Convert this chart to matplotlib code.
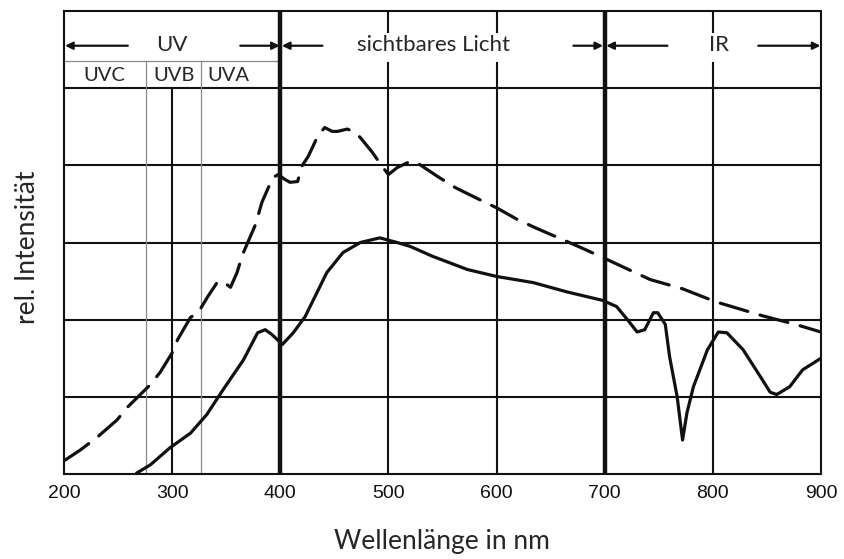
import matplotlib

matplotlib.use("Agg")
import matplotlib.pyplot as plt

INK = "#111111"
THIN = "#8a8a8a"
TXT = "#262626"
LABEL_FONT = ["Lato", "DejaVu Sans"]

# Solid curve (wavelength nm, rel. intensity in grid units)
solid_nm = [267, 280, 298, 317, 332, 347, 366, 379, 386, 392, 402, 412, 423,
            443, 458, 474, 492, 508, 520, 541, 573, 600, 634, 665, 698, 711,
            721, 730, 737, 745, 749, 756, 760, 767, 772, 776, 782, 795, 805,
            813, 828, 844, 853, 859, 871, 883, 900]
solid_val = [0.01, 0.12, 0.34, 0.53, 0.77, 1.09, 1.48, 1.83, 1.87, 1.81, 1.68,
             1.83, 2.04, 2.61, 2.87, 3.00, 3.06, 3.00, 2.95, 2.82, 2.65, 2.56,
             2.48, 2.36, 2.25, 2.17, 2.00, 1.84, 1.87, 2.09, 2.09, 1.94, 1.52,
             1.00, 0.44, 0.79, 1.13, 1.61, 1.84, 1.83, 1.61, 1.26, 1.06, 1.03,
             1.13, 1.35, 1.50]

# Dashed curve
dashed_nm = [201, 215, 231, 249, 259, 280, 289, 300, 305, 317, 324, 333, 342,
             347, 354, 360, 365, 377, 383, 393, 398, 404, 409, 416, 420, 426,
             434, 441, 448, 453, 462, 469, 474, 485, 494, 500, 508, 520, 529,
             545, 562, 588, 600, 619, 636, 677, 696, 722, 742, 772, 803, 846,
             876, 900]
dashed_val = [0.18, 0.31, 0.48, 0.70, 0.87, 1.16, 1.32, 1.57, 1.74, 2.03, 2.09,
              2.30, 2.49, 2.49, 2.42, 2.61, 2.84, 3.23, 3.52, 3.84, 3.88, 3.82,
              3.78, 3.79, 3.99, 4.12, 4.36, 4.49, 4.44, 4.44, 4.47, 4.43, 4.36,
              4.17, 3.99, 3.88, 3.97, 4.05, 4.01, 3.86, 3.71, 3.53, 3.45, 3.30,
              3.19, 2.94, 2.82, 2.65, 2.52, 2.40, 2.23, 2.05, 1.94, 1.84]

x_ticks = [200, 300, 400, 500, 600, 700, 800, 900]
uv_bands = ["UVC", "UVB", "UVA"]
uv_band_centers = [237, 302, 352]
uv_band_edges = [276, 327]

fig = plt.figure(figsize=(8.45, 5.59), dpi=100)
ax = fig.add_axes([64 / 845, 85 / 559, 757 / 845, 463 / 559])
ax.set_xlim(200, 900)
ax.set_ylim(0, 6)

# grid in the data region
for v in [1, 2, 3, 4, 5]:
    ax.plot([200, 900], [v, v], color=INK, lw=1.5, zorder=1)
for x in [300, 500, 600, 800]:
    ax.plot([x, x], [0, 5], color=INK, lw=1.5, zorder=1)
    if x != 300:
        ax.plot([x, x], [5.73, 6], color=INK, lw=1.5, zorder=1)
        ax.plot([x, x], [5, 5.33], color=INK, lw=1.5, zorder=1)
for x in [400, 700]:
    ax.plot([x, x], [0, 6], color=INK, lw=3.2, zorder=3)

# UV sub-bands
ax.plot([200, 400], [5.35, 5.35], color=THIN, lw=0.9, zorder=1)
for x in uv_band_edges:
    ax.plot([x, x], [0, 5.35], color=THIN, lw=0.9, zorder=1)
for name, xc in zip(uv_bands, uv_band_centers):
    ax.text(xc, 5.16, name, ha="center", va="center", fontsize=14.5,
            family=LABEL_FONT, color=TXT)

# header arrows and labels
arrows = [(259, 201), (363, 399.5), (439, 401.5), (671, 698.5),
          (758, 701.5), (842, 899.5)]
for x0, x1 in arrows:
    ax.annotate("", xy=(x1, 5.55), xytext=(x0, 5.55),
                arrowprops=dict(arrowstyle="-|>", color=INK, lw=1.6,
                                mutation_scale=11, shrinkA=0, shrinkB=0))
for txt, xc in [("UV", 300), ("sichtbares Licht", 541.5), ("IR", 806)]:
    ax.text(xc, 5.56, txt, ha="center", va="center", fontsize=16,
            family=LABEL_FONT, color=TXT)

# curves
ax.plot(solid_nm, solid_val, color=INK, lw=2.3, zorder=4,
        solid_capstyle="round", solid_joinstyle="round")
ax.plot(dashed_nm, dashed_val, color=INK, lw=2.3, zorder=4,
        dashes=(9, 4), dash_capstyle="round")

ax.set_xticks(x_ticks)
ax.set_xticklabels([str(t) for t in x_ticks], family="Liberation Sans",
                   fontsize=14, color=INK)
ax.set_yticks([])
ax.tick_params(axis="x", length=0, pad=8)
for s in ax.spines.values():
    s.set_linewidth(1.5)
    s.set_color(INK)

fig.text(442 / 845, 1 - 542 / 559, "Wellenlänge in nm", ha="center",
         va="center", fontsize=19, family=LABEL_FONT, color=TXT)
fig.text(28 / 845, 1 - 247 / 559, "rel. Intensität", ha="center",
         va="center", rotation=90, fontsize=19, family=LABEL_FONT, color=TXT)

fig.savefig("out.png", dpi=100, facecolor="white")
